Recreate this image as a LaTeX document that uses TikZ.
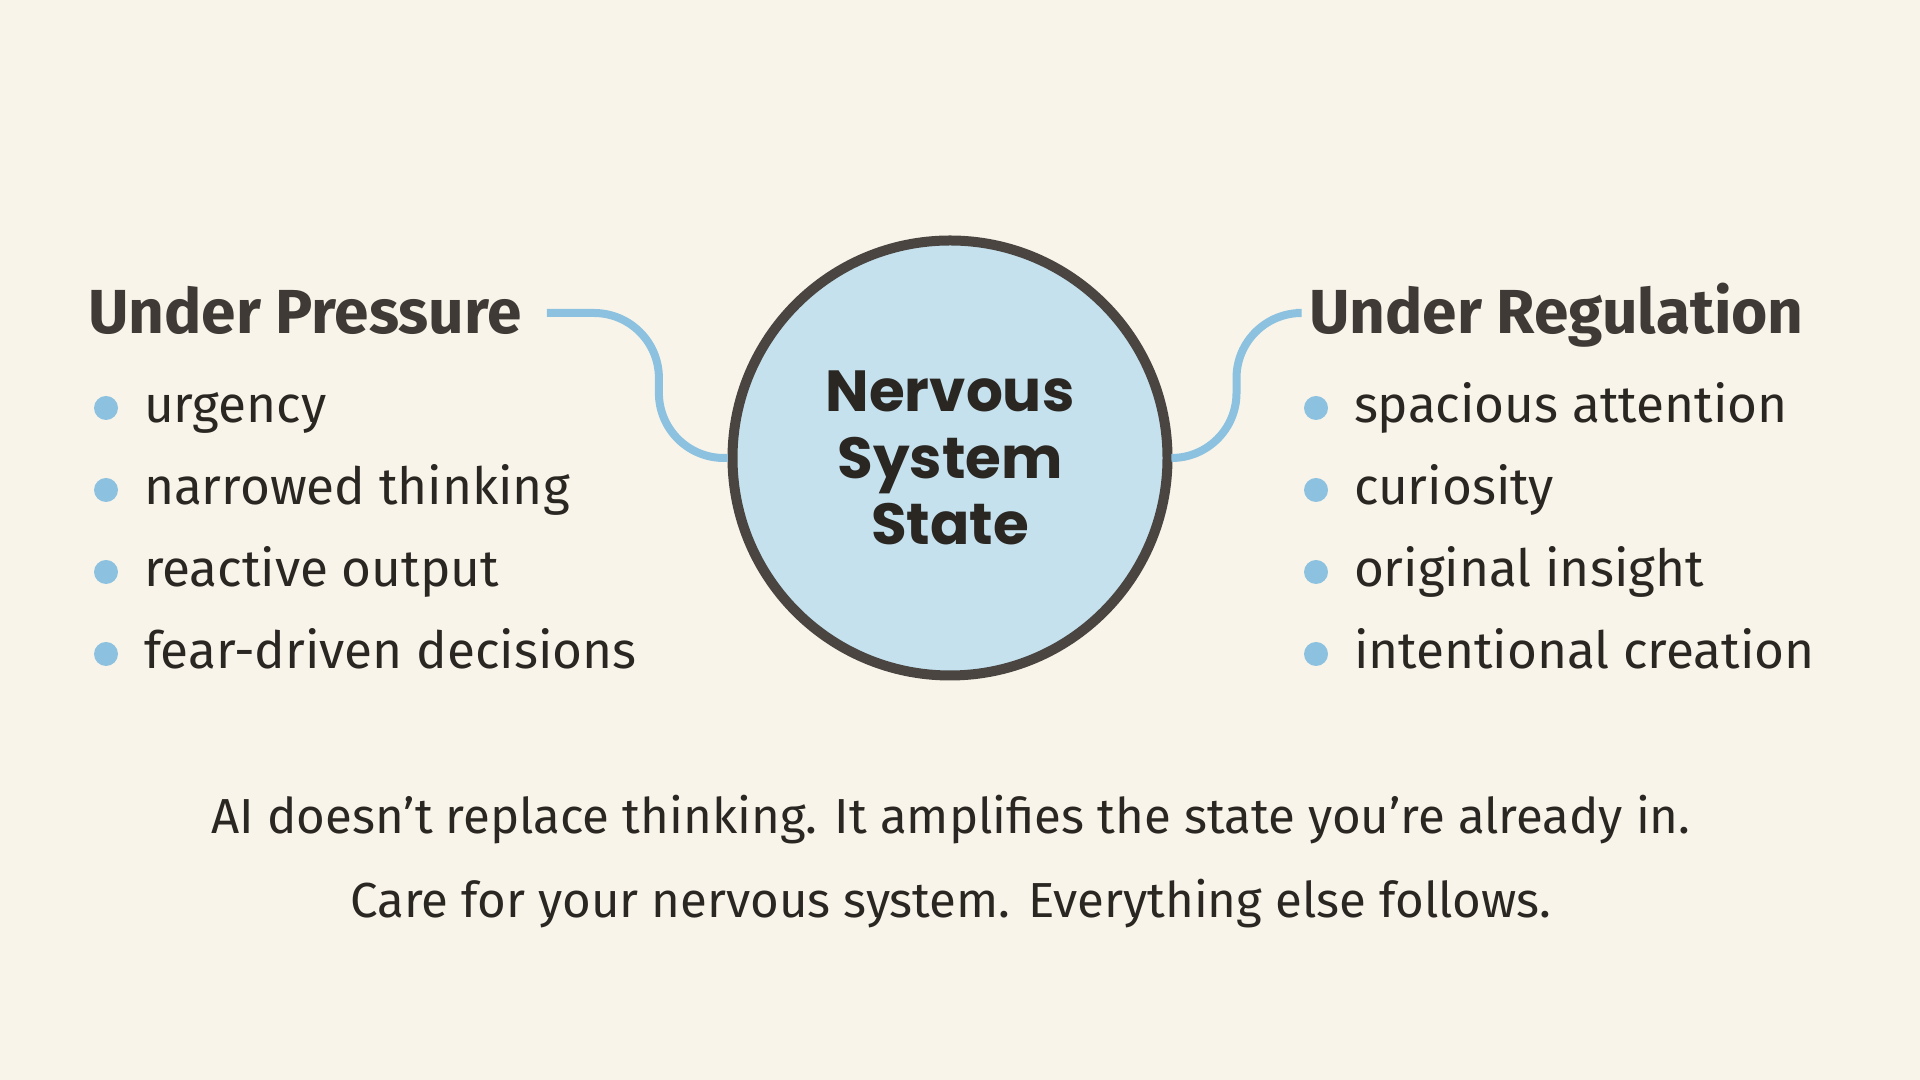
\documentclass[tikz,border=0pt]{standalone}
\usepackage{fontspec}
\setmainfont{Fira Sans}
\newfontfamily\titlefont{Poppins}
\usetikzlibrary{positioning}

\definecolor{paper}{HTML}{F8F4EA}
\definecolor{ink}{HTML}{2A2622}
\definecolor{headink}{HTML}{3F3A35}
\definecolor{rim}{HTML}{4A4541}
\definecolor{corefill}{HTML}{C5E1EE}
\definecolor{wire}{HTML}{8CC1DF}

\begin{document}
\begin{tikzpicture}[
			every node/.style={inner sep=0pt, outer sep=0pt},
			head/.style={font=\fontsize{17.7}{20}\selectfont\bfseries,
				text=headink, anchor=base west},
			item/.style={font=\fontsize{14.6}{18}\selectfont, text=ink,
				anchor=base west},
			hub/.style={circle, draw=rim, line width=1mm, fill=corefill,
				minimum size=4.35cm, outer sep=0.5mm, align=center, text=ink,
				font=\titlefont\fontsize{16.5}{19}\selectfont\bfseries},
			link/.style={draw=wire, line width=0.8mm, rounded corners=6.5mm},
			motto/.style={font=\fontsize{14}{17}\selectfont, text=ink,
				anchor=base},
			]
			\useasboundingbox (0,0) rectangle (19.2,10.8);
			\fill[paper] (0,0) rectangle (19.2,10.8);

			% =============================================================
			%  CENTRE
			% =============================================================
			\node[hub] (core) at (9.50,6.22) {Nervous\\System\\State};

			% =============================================================
			%  LEFT: under pressure
			% =============================================================
			\node[head] (lp) at (0.88,7.46) {Under Pressure};
			\node[item] (u1) at (1.44,6.57) {urgency};
			\node[below=8.2mm of u1.base west, item] (u2) {narrowed thinking};
			\node[below=8.2mm of u2.base west, item] (u3) {reactive output};
			\node[below=8.2mm of u3.base west, item] (u4) {fear-driven decisions};

			% =============================================================
			%  RIGHT: under regulation
			% =============================================================
			\node[head] (rr) at (13.09,7.46) {Under Regulation};
			\node[item] (r1) at (13.54,6.57) {spacious attention};
			\node[below=8.2mm of r1.base west, item] (r2) {curiosity};
			\node[below=8.2mm of r2.base west, item] (r3) {original insight};
			\node[below=8.2mm of r3.base west, item] (r4) {intentional creation};

			% --- bullets ---
			\foreach \n in {u1,u2,u3,u4,r1,r2,r3,r4}
			\fill[wire] ([xshift=-3.8mm,yshift=1.5mm]\n.base west) circle (1.2mm);

			% ---- connectors ----
			\draw[link] ([xshift=2.5mm,yshift=2.1mm]lp.base east) -- ++(1.12,0)
			|- (core.west);
			\draw[link] (core.east) -- ++(0.64,0)
			|- ([xshift=-1.3mm,yshift=2.1mm]rr.base west);

			% =============================================================
			%  BOTTOM
			% =============================================================
			\node[motto] (m1) at (9.51,2.46)
			{AI doesn’t replace thinking. It amplifies the state you’re already in.};
			\node[below=8.4mm of m1.base, motto] (m2)
			{Care for your nervous system. Everything else follows.};
		\end{tikzpicture}
\end{document}
